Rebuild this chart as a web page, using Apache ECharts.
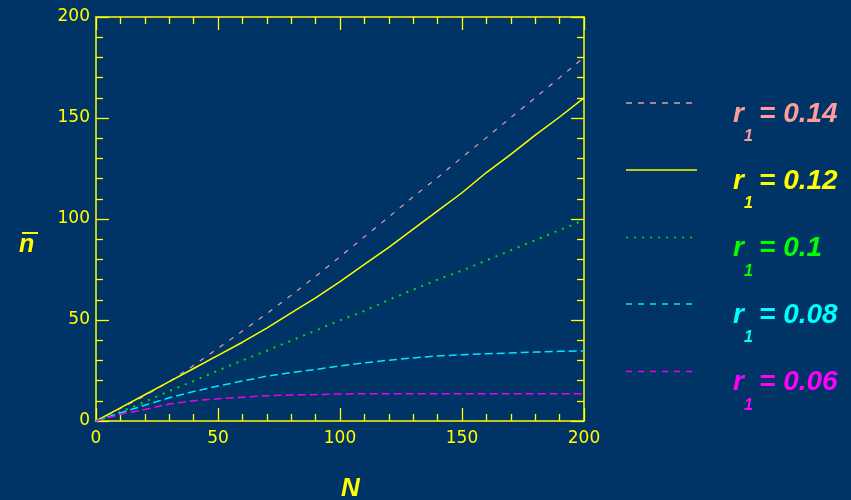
<!DOCTYPE html>
<html>
<head>
<meta charset="utf-8">
<style>
html,body{margin:0;padding:0;background:#003366;}
#c{width:851px;height:500px;}
</style>
<script src="https://cdn.jsdelivr.net/npm/echarts@6/dist/echarts.min.js"></script>
</head>
<body>
<div id="c"></div>
<script>
// N values (x)
var Nvals = [0,10,20,30,40,50,60,70,80,90,100,110,120,130,140,150,160,170,180,190,200];
// mean n for each r1
var r014 = [0,6.2,12.5,19.5,27.5,36,44.5,53.2,62.3,71.6,81.3,91.2,101,111,120.5,130.5,140.3,150.2,160,170,180];
var r012 = [0,6.5,13,19.5,26,32.5,39,46,53.5,61,69,77.5,86,95,104,113,123,132,141.5,150.5,160];
var r010 = [0,4.5,9.5,14.8,19.8,25,30,34.8,39.8,44.8,49.8,54.5,60,65,70,74.5,79.5,84.5,89.5,94.5,99.5];
var r008 = [0,4,7.8,11.5,14.6,17.3,19.8,22.2,24,25.5,27.3,28.8,30.1,31.2,32.2,32.8,33.3,33.7,34.1,34.5,34.7];
var r006 = [0,3.3,5.7,8.4,10,11,11.8,12.5,12.9,13.1,13.4,13.5,13.5,13.5,13.5,13.5,13.5,13.5,13.5,13.5,13.5];
var rLabels = ['0.14','0.12','0.1','0.08','0.06'];
var xTicks = [0,50,100,150,200];
var yTicks = [0,50,100,150,200];

var seriesData = [r014, r012, r010, r008, r006];
var lineColors = ['#e89aa6','#ffff00','#00e000','#00e8ff','#ee00ee'];
var textColors = ['#ff9c9c','#ffff00','#00ff00','#00ffff','#ff00ff'];
var dashes = [[5,7], null, [2,6], [8,4], [8,4]];
var widths = [1.2,1.5,2,1.5,1.5];

function pairs(ys){ return Nvals.map(function(n,i){ return [n, ys[i]]; }); }

var Y = '#ffff00';
var labelFont = {color:Y, fontFamily:'DejaVu Sans', fontSize:17};

function axisBase(extra){
  var a = {
    type:'value', min:0, max:200, interval:50,
    axisLine:{show:true, onZero:false, lineStyle:{color:Y, width:1.5}},
    axisTick:{show:true, inside:true, length:13, lineStyle:{color:Y, width:1.3}},
    minorTick:{show:true, splitNumber:5, length:7, lineStyle:{color:Y, width:1.3}},
    splitLine:{show:false},
    minorSplitLine:{show:false}
  };
  for (var k in extra) a[k] = extra[k];
  return a;
}

var option = {
  backgroundColor:'#003366',
  animation:false,
  grid:{left:96, right:267, top:17, bottom:79},
  xAxis:[
    axisBase({position:'bottom', axisLabel:Object.assign({margin:9, formatter:function(v){return xTicks.indexOf(v)>=0?String(v):'';}}, labelFont)}),
    axisBase({position:'top', axisLabel:{show:false}})
  ],
  yAxis:[
    axisBase({position:'left', axisLabel:Object.assign({margin:6, formatter:function(v){return yTicks.indexOf(v)>=0?String(v):'';}}, labelFont)}),
    axisBase({position:'right', axisLabel:{show:false}})
  ],
  series: seriesData.map(function(d,i){
    return {
      type:'line', xAxisIndex:0, yAxisIndex:0, data:pairs(d),
      showSymbol:false, symbol:'none',
      lineStyle:{color:lineColors[i], width:widths[i], type: dashes[i] ? dashes[i] : 'solid'}
    };
  }),
  graphic: []
};

// axis titles
option.graphic.push({type:'text', left:341, top:476, style:{text:'N', fill:Y, font:'italic bold 26px "Liberation Sans"'}});
option.graphic.push({type:'text', left:19, top:233, style:{text:'n', fill:Y, font:'italic bold 25px "Liberation Sans"'}});
option.graphic.push({type:'rect', shape:{x:22, y:232, width:16, height:2}, style:{fill:Y}});

// legend
var rowY = [103,170,237.5,304,371.5];
rowY.forEach(function(y,i){
  var ls = {stroke:lineColors[i], lineWidth:1.5};
  if (dashes[i]) ls.lineDash = (i===2)?[2,6]:[6,6];
  option.graphic.push({type:'line', shape:{x1:626, y1:y, x2:697, y2:y}, style:ls});
  option.graphic.push({type:'text', x:733, y:y+25, style:{text:'r', fill:textColors[i], font:'italic bold 28px "Liberation Sans"', textVerticalAlign:'bottom'}});
  option.graphic.push({type:'text', x:744, y:y+42, style:{text:'1', fill:textColors[i], font:'italic bold 16px "Liberation Sans"', textVerticalAlign:'bottom'}});
  option.graphic.push({type:'text', x:759, y:y+25, style:{text:'= '+rLabels[i], fill:textColors[i], font:'italic bold 28px "Liberation Sans"', textVerticalAlign:'bottom'}});
});

var chart = echarts.init(document.getElementById('c'), null, {renderer:'canvas'});
chart.setOption(option);
</script>
</body>
</html>
